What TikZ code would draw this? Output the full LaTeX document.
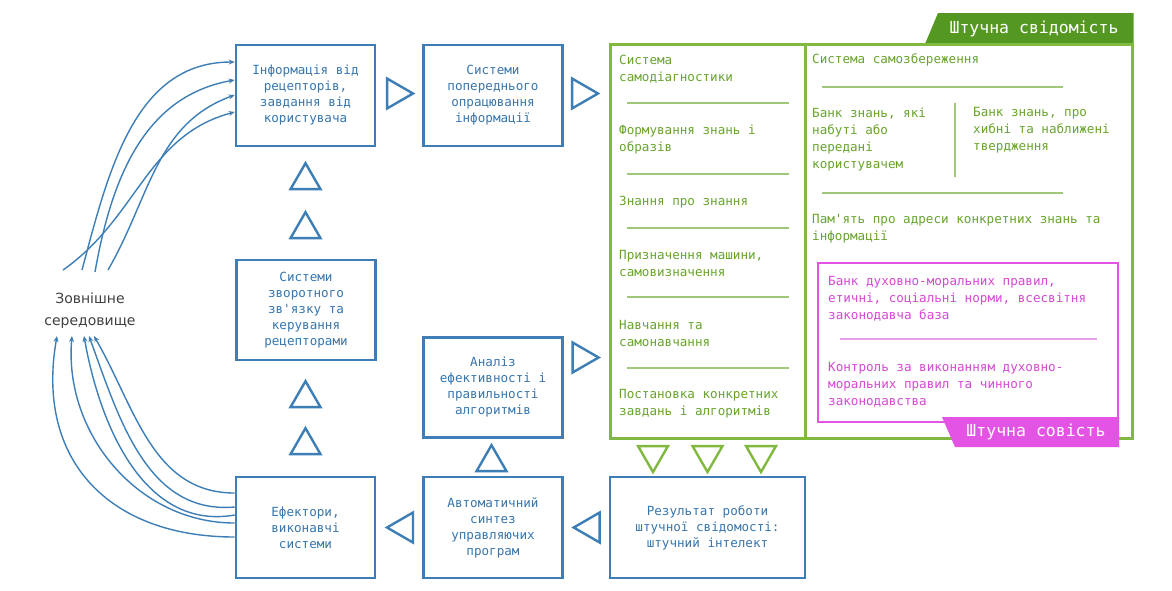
\documentclass[tikz,border=0pt]{standalone}
\usepackage{fontspec}
\setmainfont{DejaVu Sans}
\newfontfamily\monofont{DejaVu Sans Mono}
\usetikzlibrary{shapes.geometric, arrows.meta, positioning, calc}

\definecolor{boxblue}{RGB}{62,126,182}
\definecolor{txtblue}{RGB}{56,118,172}
\definecolor{lgreen}{RGB}{128,184,64}
\definecolor{dgreen}{RGB}{84,152,34}
\definecolor{tgreen}{RGB}{104,164,44}
\definecolor{sgreen}{RGB}{160,200,120}
\definecolor{pink}{RGB}{228,84,228}
\definecolor{tpink}{RGB}{214,72,214}
\definecolor{spink}{RGB}{232,160,232}

\tikzset{
  block/.style={draw=boxblue, line width=2.6pt, minimum width=139pt, minimum height=101pt,
    align=center, text=txtblue, inner sep=2pt, font=\monofont\fontsize{12.6}{16}\selectfont},
  tri/.style={draw=boxblue, line width=2.4pt, regular polygon, regular polygon sides=3,
    minimum size=34.6pt, inner sep=0pt},
  gtri/.style={tri, draw=lgreen},
  gbox/.style={draw=lgreen, line width=3pt, inner sep=0pt},
  gtext/.style={anchor=west, align=left, inner sep=0pt, text=tgreen,
    font=\monofont\fontsize{12.6}{17}\selectfont},
  ptext/.style={gtext, text=tpink},
  sep/.style={draw=sgreen, line width=1.2pt},
  tabtext/.style={text=white, inner sep=0pt, font=\monofont\fontsize{16.5}{20}\selectfont},
  flow/.style={draw=boxblue, line width=1.4pt, -{Stealth[length=6pt,width=5pt]}}
}

\begin{document}
\begin{tikzpicture}[x=1pt,y=-1pt]
\useasboundingbox[fill=white] (0,0) rectangle (1172,590);

% outer environment
\node[font=\fontsize{14}{22}\selectfont, text=black!75, align=center] (env) at (90,311)
  {Зовнішне\\середовище};

% blue chain
\node[block] (info) at (305.5,95.5) {Інформація від\\рецепторів,\\завдання від\\користувача};
\node[block] (preproc) at (493,95.5) {Системи\\попереднього\\опрацювання\\інформації};
\node[block, minimum height=100pt] (feedback) at (306,310) {Системи\\зворотного\\зв'язку та\\керування\\рецепторами};
\node[block, minimum height=100pt] (analysis) at (493,387.5) {Аналіз\\ефективності і\\правильності\\алгоритмів};
\node[block] (effectors) at (305.5,527.5) {Ефектори,\\виконавчі\\системи};
\node[block] (synthesis) at (493,527.5) {Автоматичний\\синтез\\управляючих\\програм};
\node[block, minimum width=195pt] (result) at (707.5,527.5) {Результат роботи\\штучної свідомості:\\штучний інтелект};

% triangles
\node[tri, rotate=-90] (t1) at (395.7,93.5) {};
\node[tri, rotate=-90] (t2) at (580.7,93.5) {};
\node[tri] (t3) at (305.5,180.5) {};
\node[tri] (t4) at (305.5,229.5) {};
\node[tri] (t5) at (305.5,398.5) {};
\node[tri] (t6) at (305.5,445.5) {};
\node[tri] (t7) at (491.5,462.5) {};
\node[tri, rotate=-90] (t8) at (581.3,357.5) {};
\node[tri, rotate=90] (t9) at (404.3,527.5) {};
\node[tri, rotate=90] (t10) at (591,527.5) {};
\node[gtri, rotate=180] (g1) at (653,454.7) {};
\node[gtri, rotate=180] (g2) at (707.5,454.7) {};
\node[gtri, rotate=180] (g3) at (761,454.7) {};

% artificial consciousness
\fill[dgreen] (925,44) -- (938,13) -- (1133.5,13) -- (1133.5,44) -- cycle;
\node[tabtext] (conscious) at (1034,29) {Штучна свідомість};
\node[gbox, minimum width=195pt, minimum height=394pt] (left) at (707.5,241) {};
\node[gbox, minimum width=327pt, minimum height=394pt] (right) at (968.5,241) {};

\node[gtext] (l1) at (619,69) {Система\\самодіагностики};
\draw[sep] (627,103) -- (789,103);
\node[gtext] (l2) at (619,140) {Формування знань і\\образів};
\draw[sep] (627,174) -- (789,174);
\node[gtext] (l3) at (619,202) {Знання про знання};
\draw[sep] (627,228) -- (789,228);
\node[gtext] (l4) at (619,263) {Призначення машини,\\самовизначення};
\draw[sep] (627,297) -- (789,297);
\node[gtext] (l5) at (619,333) {Навчання та\\самонавчання};
\draw[sep] (627,368) -- (789,368);
\node[gtext] (l6) at (619,404) {Постановка конкретних\\завдань і алгоритмів};

\node[gtext] (r1) at (812,60) {Система самозбереження};
\draw[sep] (822,87) -- (1063,87);
\node[gtext] (r2) at (812,140) {Банк знань, які\\набуті або\\передані\\користувачем};
\draw[sep] (955,103) -- (955,177);
\node[gtext] (r3) at (973,130) {Банк знань, про\\хибні та наближені\\твердження};
\draw[sep] (822,193) -- (1063,193);
\node[gtext] (r4) at (812,229) {Пам'ять про адреси конкретних знань та\\інформації};

% artificial conscience
\node[draw=pink, line width=2pt, minimum width=300pt, minimum height=159pt, inner sep=0pt] (ethics) at (968,342.5) {};
\node[ptext] (m1) at (828,298.5) {Банк духовно-моральних правил,\\етичні, соціальні норми, всесвітня\\законодавча база};
\draw[spink, line width=1.2pt] (840,339) -- (1097,339);
\node[ptext] (m2) at (828,385) {Контроль за виконанням духовно-\\моральних правил та чинного\\законодавства};
\fill[pink] (942,417) -- (1119,417) -- (1119,447) -- (955,447) -- cycle;
\node[tabtext] (conscience) at (1036,432) {Штучна совість};

% links with the environment
\draw[flow] ([xshift=-27pt,yshift=41pt]env.center) to[out=35,in=195] ([yshift=-16.5pt]info.west);
\draw[flow] ([xshift=-8pt,yshift=41pt]env.center) to[out=75,in=180] ([yshift=33.5pt]info.west);
\draw[flow] ([xshift=5pt,yshift=39pt]env.center) to[out=80,in=190] ([yshift=15.5pt]info.west);
\draw[flow] ([xshift=18pt,yshift=41pt]env.center) to[out=60,in=200] ([yshift=0.5pt]info.west);

\draw[flow] ([yshift=34.5pt]effectors.west) to[out=180,in=-60] ([xshift=4pt,yshift=-25pt]env.center);
\draw[flow] ([yshift=20.5pt]effectors.west) to[out=185,in=-70] ([xshift=-1pt,yshift=-25pt]env.center);
\draw[flow] ([yshift=12.5pt]effectors.west) to[out=190,in=-80] ([xshift=-6pt,yshift=-25pt]env.center);
\draw[flow] ([yshift=4.5pt]effectors.west) to[out=180,in=-95] ([xshift=-18pt,yshift=-25pt]env.center);
\draw[flow] ([yshift=-9.5pt]effectors.west) to[out=180,in=-100, looseness=1.2] ([xshift=-33pt,yshift=-25pt]env.center);
\end{tikzpicture}
\end{document}
